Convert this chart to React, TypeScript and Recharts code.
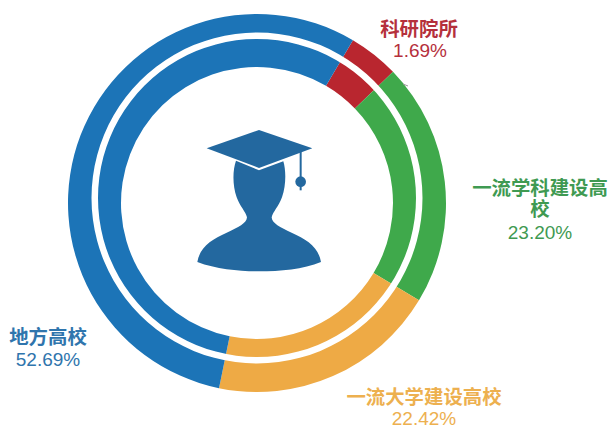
import React from 'react';
import { PieChart, Pie, Cell } from 'recharts';

// label text as printed on the chart
const NAMES = ['科研院所', '一流学科建设高校', '一流大学建设高校', '地方高校'];
const PERCENTS = ['1.69%', '23.20%', '22.42%', '52.69%'];
// share of the ring each arc actually covers
const ARC_SHARES = [4.31, 20.83, 19.61, 55.25];
const COLORS = ['#b9262f', '#3fa94b', '#eeaa45', '#1c74b7'];
const TEXT_COLORS = ['#b5303c', '#3f9a52', '#edb04f', '#2f75ad'];

const ringData = NAMES.map((name, i) => ({ name, value: ARC_SHARES[i] }));
const gapData = [{ name: 'gap', value: 100 }];

const CJK = '"Noto Sans CJK SC", sans-serif';
const LATIN = '"Liberation Sans", Arial, sans-serif';

const Heading = ({ x, y, color, children }: { x: number; y: number; color: string; children: React.ReactNode }) => (
  <text x={x} y={y} textAnchor="middle" dominantBaseline="central" fill={color} fontFamily={CJK} fontSize={19.4} fontWeight={700}>
    {children}
  </text>
);

const Percent = ({ x, y, color, children }: { x: number; y: number; color: string; children: React.ReactNode }) => (
  <text x={x} y={y} textAnchor="middle" dominantBaseline="central" fill={color} fontFamily={LATIN} fontSize={19}>
    {children}
  </text>
);

const Graduate = () => (
  <g transform="translate(180 110) scale(0.3333)" fill="#23689f">
    <path d="M168 152 C158 180 157 225 170 262 C180 290 197 305 201 322 C200 340 175 352 140 368 C95 388 60 410 52 456 C110 478 180 484 237 484 C300 484 370 478 423 456 C415 410 380 388 335 368 C300 352 276 340 275 322 C279 305 296 290 306 262 C319 225 318 180 310 154 L237 181 Z" />
    <path d="M237 60 L397 115 L237 174 L80 115 Z" />
    <rect x={359} y={122} width={6} height={86} />
    <circle cx={362} cy={215} r={16} />
    <rect x={359} y={225} width={6} height={16} />
  </g>
);

export default function App() {
  return (
    <div style={{ position: 'absolute', left: 0, top: 0, width: 610, height: 426, background: '#fff' }}>
      <PieChart width={610} height={426} margin={{ top: 0, right: 0, bottom: 0, left: 0 }}>
        <Pie
          data={ringData}
          dataKey="value"
          cx={257}
          cy={203}
          innerRadius={136}
          outerRadius={189}
          startAngle={59.5}
          endAngle={-300.5}
          stroke="none"
          isAnimationActive={false}
        >
          {ringData.map((d, i) => (
            <Cell key={d.name} fill={COLORS[i]} />
          ))}
        </Pie>
        <Pie
          data={gapData}
          dataKey="value"
          cx={257}
          cy={198}
          innerRadius={159}
          outerRadius={165.5}
          startAngle={90}
          endAngle={-270}
          fill="#ffffff"
          stroke="none"
          isAnimationActive={false}
        />
      </PieChart>
      <svg width={610} height={426} style={{ position: 'absolute', left: 0, top: 0, pointerEvents: 'none' }}>
        <Graduate />
        <line x1={403} y1={84} x2={408} y2={86} stroke="#9a9a9a" strokeWidth={1} />

        <Heading x={419} y={27} color={TEXT_COLORS[0]}>{NAMES[0]}</Heading>
        <Percent x={420} y={50} color={TEXT_COLORS[0]}>{PERCENTS[0]}</Percent>

        <Heading x={540} y={186} color={TEXT_COLORS[1]}>{NAMES[1].slice(0, 7)}</Heading>
        <Heading x={540} y={207} color={TEXT_COLORS[1]}>{NAMES[1].slice(7)}</Heading>
        <Percent x={540} y={232} color={TEXT_COLORS[1]}>{PERCENTS[1]}</Percent>

        <Heading x={424} y={395} color={TEXT_COLORS[2]}>{NAMES[2]}</Heading>
        <Percent x={424} y={418} color={TEXT_COLORS[2]}>{PERCENTS[2]}</Percent>

        <Heading x={48} y={335} color={TEXT_COLORS[3]}>{NAMES[3]}</Heading>
        <Percent x={48} y={359} color={TEXT_COLORS[3]}>{PERCENTS[3]}</Percent>
      </svg>
    </div>
  );
}
